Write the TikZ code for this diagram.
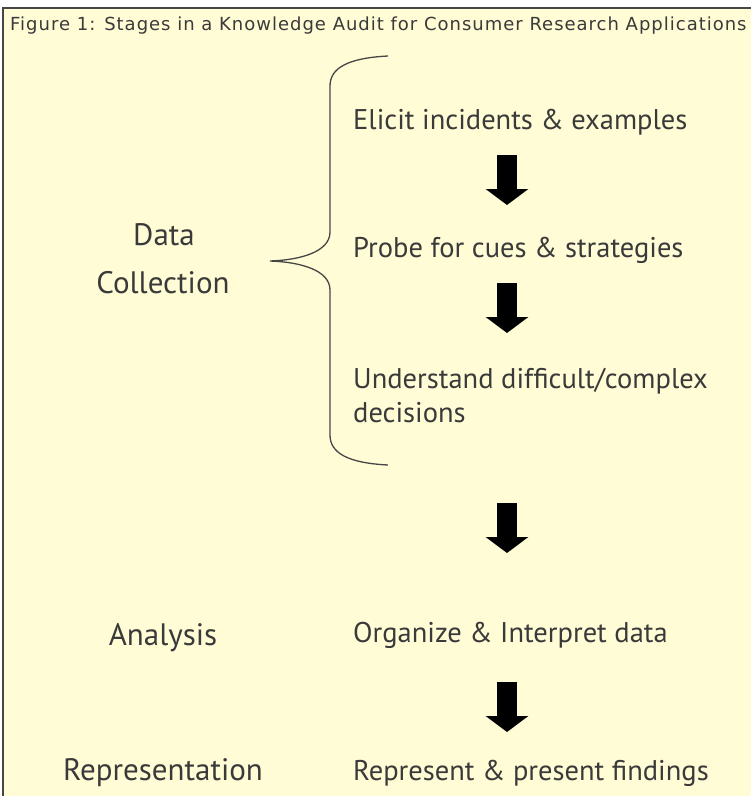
\documentclass[tikz,border=0pt]{standalone}
\usepackage{fontspec}
\setmainfont{PT Sans}
\newfontfamily\titlefont[LetterSpace=5.5]{DejaVu Sans}
\usetikzlibrary{calc}
\usetikzlibrary{positioning}
\usetikzlibrary{arrows.meta}

\definecolor{paper}{RGB}{255,252,214}
\definecolor{ink}{RGB}{58,58,58}
\definecolor{frame}{RGB}{70,70,70}

\begin{document}
\begin{tikzpicture}[x=1pt, y=-1pt]
    \tikzstyle{label}=[inner sep=0pt, anchor=base west, text=ink, font=\fontsize{28.5}{32}\selectfont]
    \tikzstyle{stage}=[inner sep=0pt, anchor=base, text=ink, font=\fontsize{31}{36}\selectfont]
    \tikzstyle{bigarrow}=[line width=20pt, -{Triangle[width=42pt, length=16pt]}]

    \useasboundingbox (0, 0) rectangle (751, 796);
    \fill[paper] (3, 8) rectangle (751, 796);
    \draw[frame, line width=2pt] (3, 796) -- (3, 8) -- (751, 8);

    % Title
    \node[inner sep=0pt, anchor=base west, text=ink, font=\titlefont\fontsize{18}{20}\selectfont]
      (title) at (10, 30) {Figure 1: Stages in a Knowledge Audit for Consumer Research Applications};

    % Stages
    \node[stage] (data) at (164, 245) {Data};
    \node[stage] (collection) at (163, 293) {Collection};
    \node[stage] (analysis) at (163, 645) {Analysis};
    \node[stage] (representation) at (163, 780) {Representation};

    % Steps
    \node[label] (elicit) at (353, 129) {Elicit incidents \& examples};
    \node[label] (probe) at (353, 257) {Probe for cues \& strategies};
    \node[label] (understand) at (353, 388) {Understand difficult/complex};
    \node[label] (decisions) at (353, 422) {decisions};
    \node[label] (organize) at (353, 642) {Organize \& Interpret data};
    \node[label] (present) at (353, 780) {Represent \& present findings};

    % Brace
    \draw[frame, line width=1.3pt]
      (388, 56) .. controls (348, 58) and (330, 68) .. (330, 86)
      -- (330, 232) .. controls (330, 252) and (300, 260) .. (270, 261)
      .. controls (300, 262) and (330, 270) .. (330, 290)
      -- (330, 435) .. controls (330, 453) and (348, 463) .. (388, 465);

    % Arrows
    \coordinate (a1) at (507, 155);
    \coordinate (b1) at (507, 205);
    \coordinate (a2) at (507, 283);
    \coordinate (b2) at (507, 333);
    \coordinate (a3) at (507, 503);
    \coordinate (b3) at (507, 553);
    \coordinate (a4) at (507, 682);
    \coordinate (b4) at (507, 732);
    \draw[bigarrow] (a1) -- (b1);
    \draw[bigarrow] (a2) -- (b2);
    \draw[bigarrow] (a3) -- (b3);
    \draw[bigarrow] (a4) -- (b4);
  \end{tikzpicture}
\end{document}
